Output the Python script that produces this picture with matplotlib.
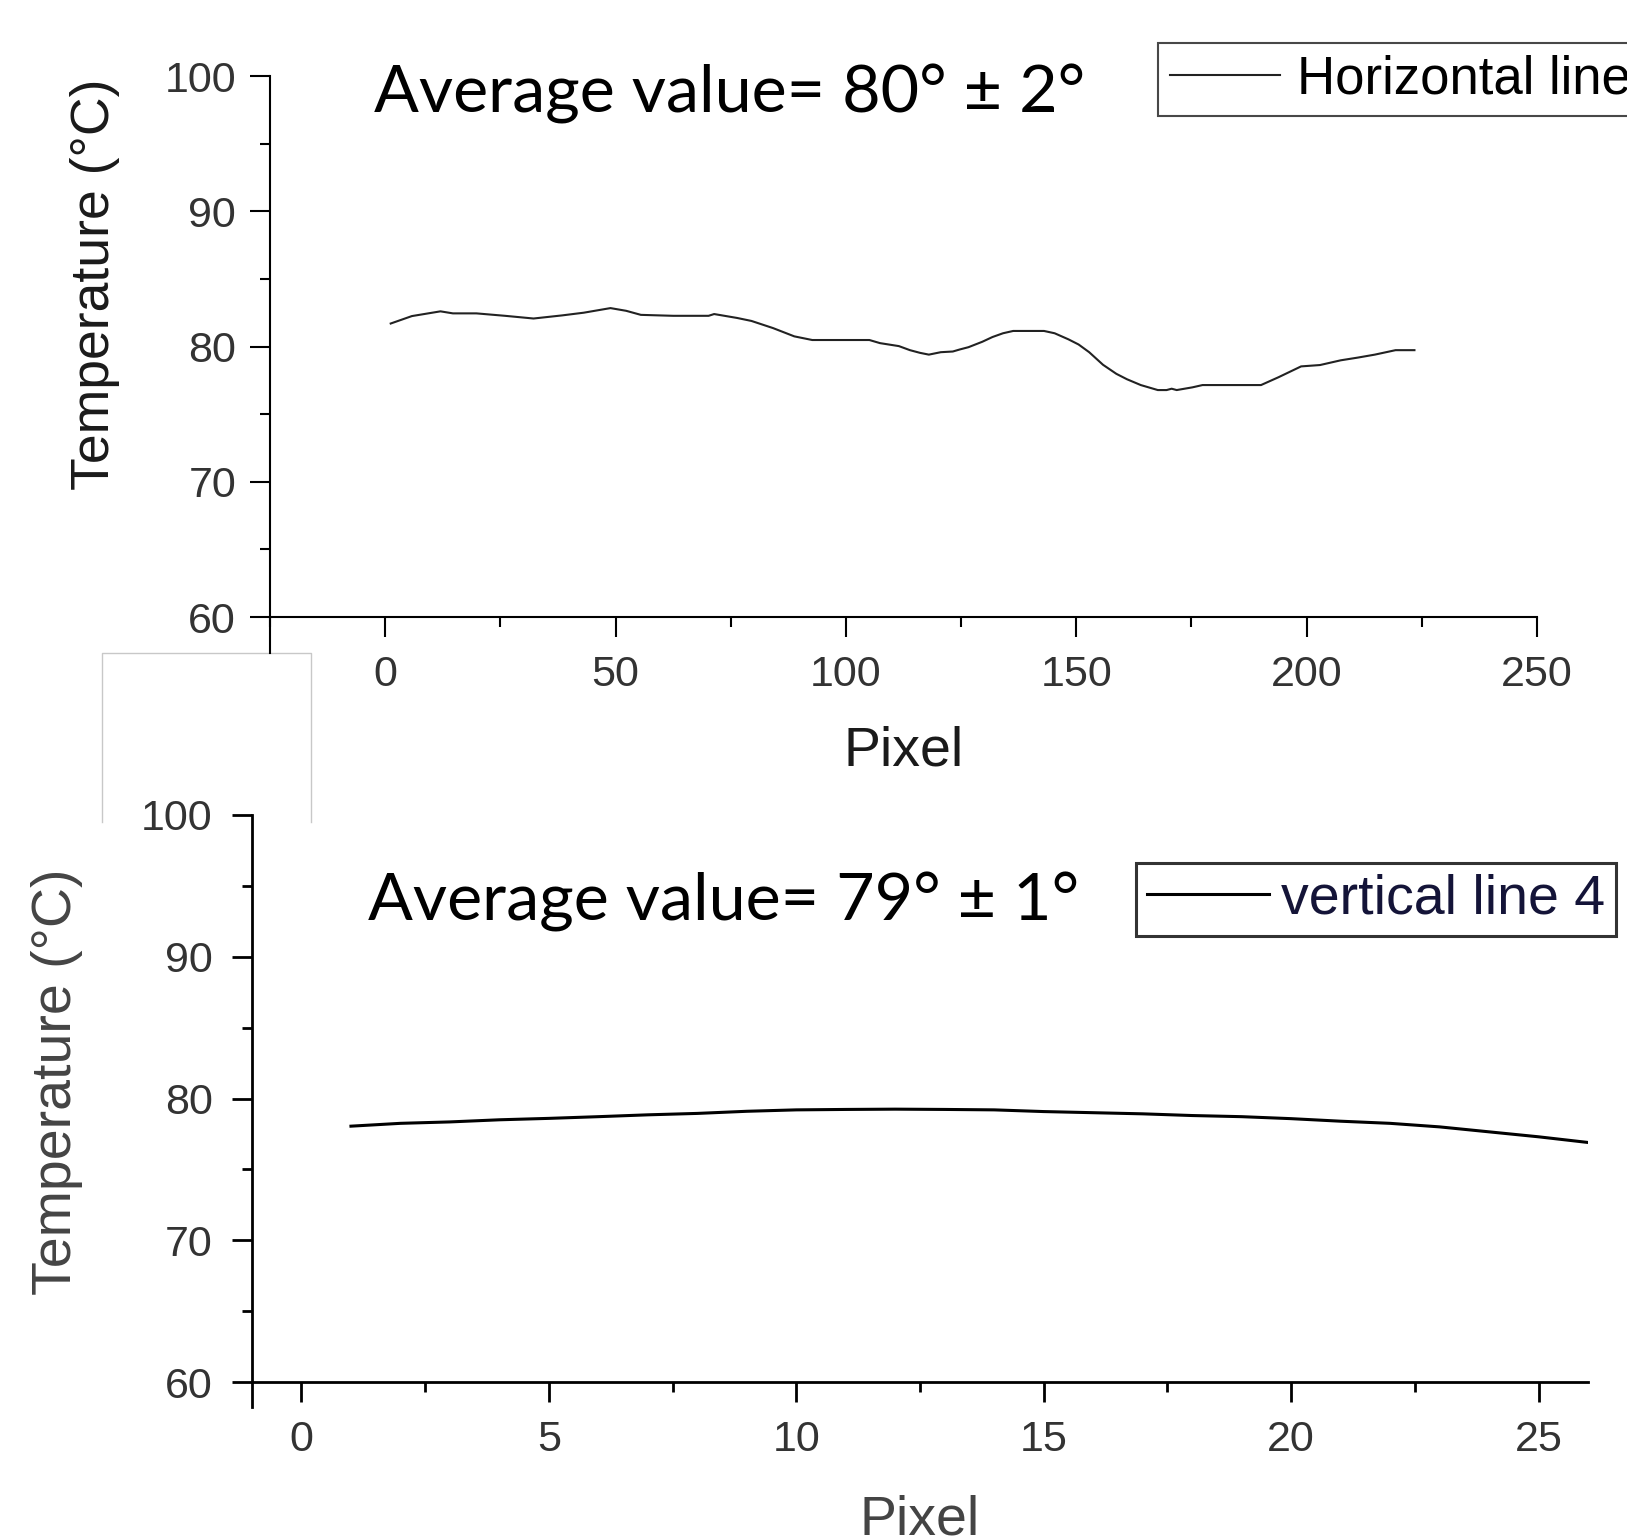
import matplotlib
matplotlib.use("Agg")
import matplotlib.pyplot as plt
from matplotlib.patches import Rectangle
from matplotlib.lines import Line2D
from matplotlib.ticker import MultipleLocator

# horizontal line profile (top panel)
h_pixel = [1.2, 5.8, 12.0, 14.7, 19.8, 26.0, 32.2, 38.4, 43.1, 48.9, 52.3, 55.5,
           62.5, 70.2, 71.4, 76.4, 79.5, 84.2, 88.8, 92.7, 98.9, 105.1, 107.4,
           111.5, 113.9, 116.1, 118.0, 120.6, 123.2, 124.7, 126.6, 129.6, 131.8,
           134.1, 136.3, 143.0, 145.3, 148.3, 150.5, 152.8, 155.8, 158.7, 161.0,
           164.0, 167.7, 169.6, 170.7, 171.8, 175.2, 177.4, 190.1, 193.9, 198.8,
           202.9, 207.4, 211.1, 214.8, 219.3, 223.4]
h_temp = [81.7, 82.25, 82.6, 82.45, 82.45, 82.27, 82.07, 82.3, 82.5, 82.84, 82.64, 82.34,
          82.27, 82.27, 82.4, 82.11, 81.89, 81.36, 80.75, 80.48, 80.48, 80.48, 80.25,
          80.03, 79.73, 79.53, 79.4, 79.58, 79.63, 79.78, 79.95, 80.35, 80.7,
          80.98, 81.15, 81.15, 80.98, 80.53, 80.15, 79.58, 78.65, 77.98, 77.58,
          77.15, 76.78, 76.78, 76.88, 76.78, 76.98, 77.15, 77.15, 77.73, 78.53,
          78.63, 78.98, 79.18, 79.4, 79.73, 79.73]

# vertical line 4 profile (bottom panel)
v_pixel = [1, 2, 3, 4, 5, 6, 7, 8, 9, 10, 11, 12, 13,
           14, 15, 16, 17, 18, 19, 20, 21, 22, 23, 24, 25, 26]
v_temp = [78.05, 78.25, 78.35, 78.5, 78.6, 78.72, 78.85, 78.95, 79.1, 79.2, 79.23, 79.25, 79.23,
          79.2, 79.08, 79.0, 78.92, 78.8, 78.72, 78.58, 78.4, 78.25, 78.0, 77.65, 77.3, 76.9]

top_note = "Average value= 80° ± 2°"
bottom_note = "Average value= 79° ± 1°"

W, H = 1627, 1539
fig = plt.figure(figsize=(W / 100, H / 100), dpi=100)
plt.rcParams['font.family'] = ['Liberation Sans', 'DejaVu Sans']


def fx(px):
    return px / W


def fy(py):
    return 1 - py / H


def style_axis(ax, lw, pad_y, xlabel_y, ylab_xy, lab_color, ylab_size):
    ax.set_facecolor('none')
    ax.spines['top'].set_visible(False)
    ax.spines['right'].set_visible(False)
    ax.spines['bottom'].set_position(('data', 60))
    for s in ['left', 'bottom']:
        ax.spines[s].set_linewidth(lw)
    ax.set_yticks([60, 70, 80, 90, 100])
    ax.yaxis.set_minor_locator(MultipleLocator(5))
    ax.tick_params(which='major', direction='out', length=14.4, width=lw,
                   labelsize=31, labelcolor='#333333')
    ax.tick_params(which='minor', direction='out', length=7.2, width=lw)
    ax.tick_params(axis='x', pad=13)
    ax.tick_params(axis='y', pad=pad_y)
    ax.set_xlabel('Pixel', fontsize=40, color=lab_color, va='top')
    ax.xaxis.set_label_coords(0.5, xlabel_y)
    ax.set_ylabel('Temperature (°C)', fontsize=ylab_size, color=lab_color, va='center')
    ax.yaxis.set_label_coords(*ylab_xy)


# top panel
ax1 = fig.add_axes([fx(270), fy(653), fx(1537) - fx(270), fy(76) - fy(653)])
ax1.plot(h_pixel, h_temp, color='#222222', lw=1.5, label='Horizontal line')
ax1.set_xlim(-25, 250)
ax1.set_ylim(57.34, 100)
ax1.set_xticks([0, 50, 100, 150, 200, 250])
ax1.xaxis.set_minor_locator(MultipleLocator(25))
style_axis(ax1, 1.5, 10, -0.125, (-0.138, 0.6395), '#1a1a1a', 38.5)
leg1 = ax1.legend(loc='upper left', bbox_to_anchor=(fx(1158), fy(43)),
                  bbox_transform=fig.transFigure, borderaxespad=0, fontsize=38,
                  frameon=True, fancybox=False, edgecolor='#1a1a1a', borderpad=0.22,
                  handlelength=2.1, handletextpad=0.32)
leg1.get_frame().set_linewidth(1.5)

fig.text(fx(374), fy(113), top_note, fontsize=47.8, family=['Lato', 'DejaVu Sans'],
         va='baseline', ha='left', color='black')

# bottom panel
ax2 = fig.add_axes([fx(252), fy(1407), fx(1588) - fx(252), fy(815) - fy(1407)])
ax2.plot(v_pixel, v_temp, color='black', lw=2.2, label='vertical line 4')
ax2.set_xlim(-1, 26)
ax2.set_ylim(58.24, 100)
ax2.set_xticks([0, 5, 10, 15, 20, 25])
ax2.xaxis.set_minor_locator(MultipleLocator(2.5))
style_axis(ax2, 2.0, 14, -0.147, (-0.146, 0.549), '#444444', 40)
leg2 = ax2.legend(loc='upper left', bbox_to_anchor=(fx(1136), fy(863)),
                  bbox_transform=fig.transFigure, borderaxespad=0, fontsize=40,
                  frameon=True, fancybox=False, edgecolor='black', borderpad=0.19,
                  handlelength=2.2, handletextpad=0.22, labelcolor='#141438')
leg2.get_frame().set_linewidth(2.2)

fig.text(fx(368), fy(921), bottom_note, fontsize=47.8, family=['Lato', 'DejaVu Sans'],
         va='baseline', ha='left', color='black')

# stray white box with grey outline between the panels
fig.add_artist(Rectangle((fx(102), fy(822)), fx(311) - fx(102), fy(653) - fy(822),
                         transform=fig.transFigure, facecolor='white', edgecolor='none',
                         zorder=-1))
fig.add_artist(Line2D([fx(102), fx(102), fx(311), fx(311)],
                      [fy(822), fy(653), fy(653), fy(822)],
                      transform=fig.transFigure, color='#c8c8c8', lw=1.0, zorder=-1))

fig.savefig('out.png', dpi=100)
